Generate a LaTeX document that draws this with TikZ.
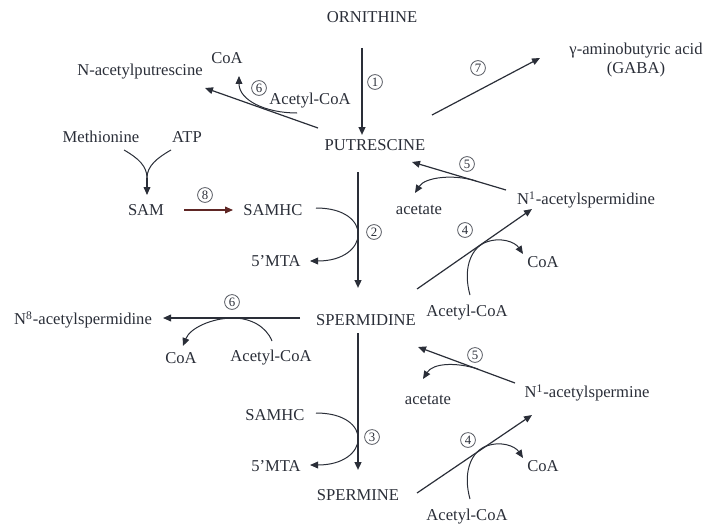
\documentclass[tikz,border=0pt]{standalone}
\usepackage{fontspec}
\setmainfont{Liberation Serif}
\usepackage{xcolor}
\usepackage{tikz}
\usetikzlibrary{arrows.meta, positioning, calc}
\definecolor{inkgray}{RGB}{42,46,56}
\definecolor{rustred}{RGB}{95,38,36}

\begin{document}
\begin{tikzpicture}[x=0.5pt, y=-0.5pt, >=Stealth,
    lbl/.style={inner sep=1pt, text=inkgray, font=\fontsize{8.3}{9.5}\selectfont},
    num/.style={circle, draw=inkgray!80, line width=0.4pt, inner sep=0pt, minimum size=7.4pt,
                text=inkgray, font=\fontsize{6.4}{7}\selectfont},
    rxn/.style={draw=inkgray, line width=0.6pt, -{Triangle[length=4pt, width=3.4pt]}},
    mainrxn/.style={rxn, line width=0.9pt},
    side/.style={draw=inkgray, line width=0.5pt},
    sidearr/.style={side, -{Triangle[length=4pt, width=3.4pt]}}]
    \useasboundingbox (0,0) rectangle (705,524);

    % backbone
    \node[lbl] (orn) at (372,17) {ORNITHINE};
    \node[lbl] (put) at (375,145) {PUTRESCINE};
    \node[lbl] (spd) at (366,320) {SPERMIDINE};
    \node[lbl] (spm) at (358,495) {SPERMINE};
    \draw[mainrxn] ($(orn)+(-10,31)$) -- ($(put)+(-13,-10)$);
    \draw[mainrxn] ($(put)+(-17,27)$) -- ($(spd)+(-8,-32)$);
    \draw[mainrxn] ($(spd)+(-8,13)$) -- ($(spm)+(0,-25)$);
    \node[num] (n1) at (375,82) {1};
    \node[num] (n2) at (374,232) {2};
    \node[num] (n3) at (372,437) {3};

    % putrescine acetylation
    \node[lbl] (nacput) at (140,72) {N-acetylputrescine};
    \node[lbl] (coaA) at (227,58) {CoA};
    \node[lbl] (acoaA) at (310,101) {Acetyl-CoA};
    \draw[rxn] ($(put)+(-57,-17)$) -- ($(nacput)+(65,16)$);
    \draw[sidearr] ($(acoaA)+(-13,12)$) .. controls +(-32,0) and +(0,24) .. ($(coaA)+(12,18)$);
    \node[num] (n6a) at (259,88) {6};

    % GABA
    \node[lbl, align=center] (gaba) at (636,60) {γ-aminobutyric acid\\(GABA)};
    \draw[rxn] ($(put)+(57,-30)$) -- ($(gaba)+(-96,-2)$);
    \node[num] (n7) at (478,68) {7};

    % SAM branch
    \node[lbl] (met) at (101,137) {Methionine};
    \node[lbl] (atp) at (187,137) {ATP};
    \node[lbl] (sam) at (146,210) {SAM};
    \node[lbl] (samhcA) at (273,210) {SAMHC};
    \node[lbl] (mtaA) at (276,261) {5'MTA};
    \coordinate (fork) at (147,178);
    \draw[side] ($(met)+(23,13)$) .. controls +(14,8) and +(0,-12) .. (fork);
    \draw[side] ($(atp)+(-16,13)$) .. controls +(-14,8) and +(0,-12) .. (fork);
    \draw[rxn] (fork) -- ($(sam)+(1,-15)$);
    \draw[rxn, draw=rustred] ($(sam)+(38,0)$) -- ($(samhcA)+(-40,0)$);
    \node[num] (n8) at (205,195) {8};
    \draw[sidearr] ($(samhcA)+(43,-2)$) .. controls +(58,0) and +(60,0) .. ($(mtaA)+(34,0)$);

    % spermidine back-conversion / acetylation
    \node[lbl] (n1spd) at (586,200) {N\textsuperscript{1}-acetylspermidine};
    \node[lbl] (acetA) at (419,210) {acetate};
    \node[lbl] (coaB) at (543,262) {CoA};
    \node[lbl] (acoaB) at (467,313) {Acetyl-CoA};
    \draw[rxn] ($(n1spd)+(-80,-10)$) -- ($(put)+(37,17)$);
    \coordinate (j5a) at (476,181);
    \draw[sidearr] (j5a) .. controls +(-22,-7) and +(10,-16) .. ($(acetA)+(-4,-17)$);
    \node[num] (n5a) at (467,164) {5};
    \draw[rxn] ($(spd)+(51,-31)$) -- ($(n1spd)+(-54,9)$);
    \coordinate (j4a) at (484,243);
    \draw[sidearr] ($(acoaB)+(3,-18)$) .. controls +(-7,-25) and +(-14,7) .. (j4a)
        .. controls +(16,-7) and +(-8,-12) .. ($(coaB)+(-20,-8)$);
    \node[num] (n4a) at (465,230) {4};

    % N8 acetylation
    \node[lbl] (n8spd) at (83,320) {N\textsuperscript{8}-acetylspermidine};
    \node[lbl] (coaC) at (181,358) {CoA};
    \node[lbl] (acoaC) at (271,358) {Acetyl-CoA};
    \draw[rxn] ($(spd)+(-66,-2)$) -- ($(n8spd)+(80,-2)$);
    \coordinate (top6) at (233,318);
    \draw[sidearr] ($(acoaC)+(1,-17)$) .. controls +(-6,-15) and +(17,0) .. (top6)
        .. controls +(-21,0) and +(7,-18) .. ($(coaC)+(2,-12)$);
    \node[num] (n6b) at (232,302) {6};

    % spermine synthesis
    \node[lbl] (samhcB) at (275,415) {SAMHC};
    \node[lbl] (mtaB) at (276,466) {5'MTA};
    \draw[sidearr] ($(samhcB)+(41,-2)$) .. controls +(58,0) and +(60,0) .. ($(mtaB)+(34,-1)$);

    % spermine back-conversion / acetylation
    \node[lbl] (n1spm) at (587,393) {N\textsuperscript{1}-acetylspermine};
    \node[lbl] (acetB) at (428,400) {acetate};
    \node[lbl] (coaD) at (543,466) {CoA};
    \node[lbl] (acoaD) at (467,517) {Acetyl-CoA};
    \draw[rxn] ($(n1spm)+(-72,-10)$) -- ($(spd)+(52,27)$);
    \coordinate (j5b) at (478,369);
    \draw[sidearr] (j5b) .. controls +(-22,-7) and +(10,-16) .. ($(acetB)+(-5,-21)$);
    \node[num] (n5b) at (475,355) {5};
    \draw[rxn] ($(spm)+(59,-2)$) -- ($(n1spm)+(-55,22)$);
    \coordinate (j4b) at (484,447);
    \draw[sidearr] ($(acoaD)+(3,-18)$) .. controls +(-7,-25) and +(-14,7) .. (j4b)
        .. controls +(16,-7) and +(-8,-12) .. ($(coaD)+(-20,-8)$);
    \node[num] (n4b) at (468,440) {4};
\end{tikzpicture}
\end{document}
